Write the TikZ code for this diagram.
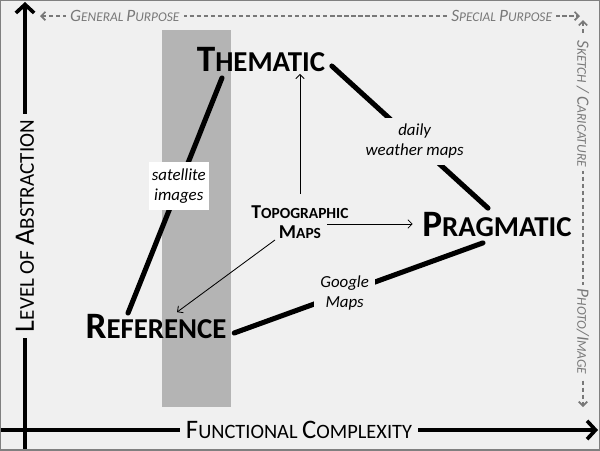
\documentclass[tikz,border=0pt]{standalone}
\usepackage{fontspec}
\setmainfont{Carlito}
\usetikzlibrary{arrows.meta,calc}
\definecolor{bgcol}{HTML}{F0F0F0}
\definecolor{framecol}{HTML}{808080}
\definecolor{bandcol}{HTML}{B4B4B4}
\definecolor{hintcol}{HTML}{787878}
% fake small caps: big size, small size, first letter, rest
\newcommand{\scw}[4]{{\fontsize{#1}{#1}\selectfont #3}{\fontsize{#2}{#2}\selectfont #4}}
\begin{document}
\begin{tikzpicture}[x=0.025cm,y=-0.025cm,
    mapnode/.style={font=\bfseries,inner sep=1pt},
    topnode/.style={font=\bfseries,align=center,inner sep=1pt},
    example/.style={font=\itshape\fontsize{12}{14}\selectfont,align=center,fill=bgcol,inner sep=4.5pt},
    axis/.style={line width=2.6pt,-{Straight Barb[length=6pt,width=13pt]}},
    axislabel/.style={fill=bgcol,inner sep=4pt,sloped},
    hint/.style={hintcol,line width=1.2pt,dash pattern=on 3pt off 2pt,{Straight Barb[length=3pt,width=6pt]}-{Straight Barb[length=3pt,width=6pt]}},
    hintlabel/.style={text=hintcol,font=\itshape,fill=bgcol,inner sep=3pt,sloped},
    link/.style={line width=3.6pt,line cap=round},
    pointer/.style={line width=0.6pt,-{Straight Barb[length=3pt,width=6pt]}}]
  \useasboundingbox (0,0) rectangle (600,450);
  \fill[bgcol] (0,0) rectangle (600,450);
  % band of image based maps
  \fill[bandcol] (162,30) rectangle (231,407);

  % axes
  \coordinate (xstart) at (0,430);
  \coordinate (xend) at (598,430);
  \coordinate (ystart) at (25,450);
  \coordinate (yend) at (25,2);
  \draw[axis] (ystart) -- node[axislabel]{\scw{20}{15}{L}{EVEL OF }\scw{20}{15}{A}{BSTRACTION}} (yend);
  \draw[axis] (xstart) -- node[axislabel]{\scw{19}{14.5}{F}{UNCTIONAL }\scw{19}{14.5}{C}{OMPLEXITY}} (xend);

  % purpose and style scales
  \coordinate (gen) at (40,16);
  \coordinate (spec) at (580,16);
  \coordinate (sketch) at (583,20);
  \coordinate (photo) at (583,407);
  \draw[hint] (gen) -- node[hintlabel,pos=0.157]{\scw{12.3}{9.5}{G}{ENERAL }\scw{12.3}{9.5}{P}{URPOSE}}
    node[hintlabel,pos=0.855]{\scw{12.3}{9.5}{S}{PECIAL }\scw{12.3}{9.5}{P}{URPOSE}} (spec);
  \draw[hint] (sketch) -- node[hintlabel,pos=0.216]{\scw{12.3}{9.5}{S}{KETCH }\scw{12.3}{9.5}{/ C}{ARICATURE}}
    node[hintlabel,pos=0.805]{\scw{12.3}{9.5}{P}{HOTO}\scw{12.3}{9.5}{/I}{MAGE}} (photo);

  % map types
  \node[mapnode] (them) at (261,60) {\scw{26.5}{20.5}{T}{HEMATIC}};
  \node[mapnode] (prag) at (497,225) {\scw{26.5}{20.5}{P}{RAGMATIC}};
  \node[mapnode] (ref) at (156,327) {\scw{26.5}{20.5}{R}{EFERENCE}};
  \node[topnode] (topo) at (300,222) {\scw{14}{11}{T}{OPOGRAPHIC}\\[2pt]\scw{14}{11}{M}{APS}};

  \draw[link] ($(ref.north)+(-28,0)$) -- node[example,fill=white,pos=0.54,inner xsep=2pt,inner ysep=5pt]{satellite\\images} ($(them.south)+(-39,4)$);
  \draw[link] ($(them.east)+(5,6)$) -- node[example,pos=0.53]{daily\\weather maps} ($(prag.north)+(-9,-3)$);
  \draw[link] ($(prag.south)+(-14,4)$) -- node[example,pos=0.556]{Google\\Maps} ($(ref.east)+(6,6)$);

  \draw[pointer] ($(topo.north)+(0,-10)$) -- (topo.north |- them.south);
  \draw[pointer] ($(topo.east)+(-23,2)$) -- ($(prag.west)+(-8,-1)$);
  \draw[pointer] ($(topo.south)+(-25,0)$) -- ($(ref.north)+(21,-1)$);

  \draw[framecol,line width=1.6pt] (0,0) rectangle (600,450);
\end{tikzpicture}
\end{document}
